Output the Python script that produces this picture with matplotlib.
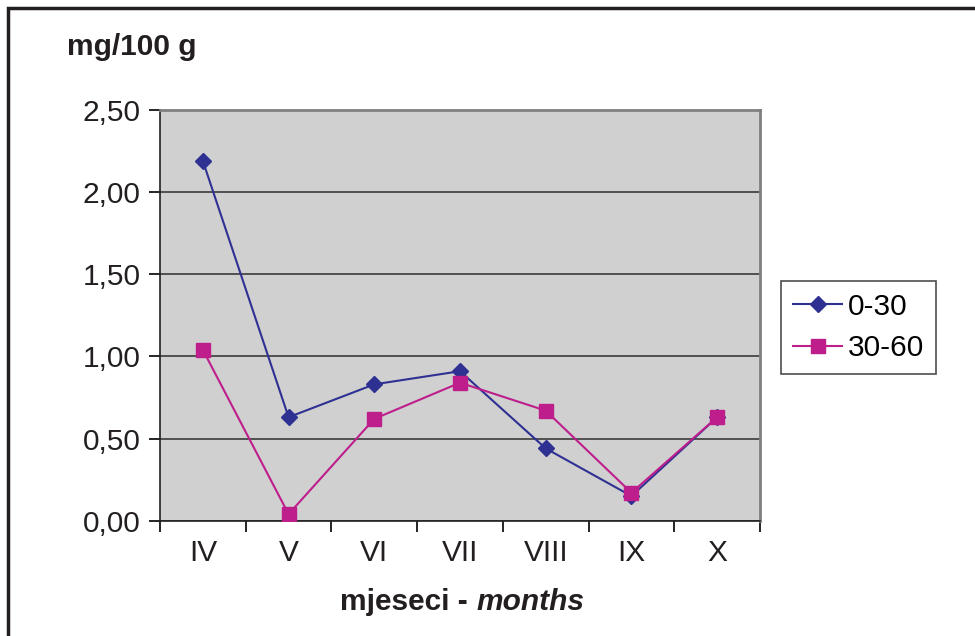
import numpy as np
import matplotlib
matplotlib.use("Agg")
import matplotlib.pyplot as plt
from matplotlib.patches import Rectangle

plt.rcParams['font.family'] = ['Liberation Sans', 'DejaVu Sans']

# data
months = ["IV", "V", "VI", "VII", "VIII", "IX", "X"]
depth_0_30 = [2.19, 0.63, 0.83, 0.91, 0.44, 0.15, 0.63]
depth_30_60 = [1.04, 0.04, 0.62, 0.84, 0.67, 0.17, 0.63]
y_ticks = [0.0, 0.5, 1.0, 1.5, 2.0, 2.5]
y_tick_labels = ["0,00", "0,50", "1,00", "1,50", "2,00", "2,50"]

BLUE = "#2E3192"
MAGENTA = "#BE1E8C"
INK = "#231F20"
FS = 21.5

fig = plt.figure(figsize=(9.75, 6.36), dpi=100)
fig.patch.set_facecolor("white")

# outer frame of the chart object (bottom and right edges run off the picture)
fig.patches.append(Rectangle((8 / 975, -0.05), 1.0, 1 - 8 / 636 + 0.05,
                             transform=fig.transFigure, fill=False,
                             edgecolor=INK, linewidth=2.5))

ax = fig.add_axes([160 / 975, 115.3 / 636, 600 / 975, 410.7 / 636])
ax.set_facecolor("#D0D0D0")

x = np.arange(len(months)) + 0.5
ax.plot(x, depth_0_30, color=BLUE, marker="D", markersize=8, linewidth=1.5,
        label="0-30", zorder=3)
ax.plot(x, depth_30_60, color=MAGENTA, marker="s", markersize=10, linewidth=1.5,
        label="30-60", zorder=4)

ax.set_xlim(0, len(months))
ax.set_ylim(0, 2.5)
ax.set_yticks(y_ticks)
ax.set_yticklabels(y_tick_labels, fontsize=FS, color=INK)
ax.yaxis.grid(True, color="#3A3A3A", linewidth=1.2)
ax.set_axisbelow(True)

ax.set_xticks(np.arange(len(months) + 1))
ax.set_xticklabels([])
ax.set_xticks(x, minor=True)
ax.set_xticklabels(months, minor=True, fontsize=FS, color=INK)
ax.tick_params(axis="x", which="minor", length=0, pad=13)
ax.tick_params(axis="x", which="major", length=8, width=1.2, direction="out")
ax.tick_params(axis="y", length=8, width=1.2, direction="out", pad=6)

for side in ["left", "bottom"]:
    ax.spines[side].set_color(INK)
    ax.spines[side].set_linewidth(1.2)
for side in ["top", "right"]:
    ax.spines[side].set_color("#808080")
    ax.spines[side].set_linewidth(2)

fig.text(67 / 975, 1 - 47 / 636, "mg/100 g", fontsize=FS, fontweight="bold",
         va="center", ha="left", color=INK)

t1 = fig.text(340 / 975, 26 / 636, "mjeseci - ", fontsize=FS, fontweight="bold",
              va="baseline", ha="left", color=INK)
ax.annotate("months", xy=(1, 0), xycoords=t1, va="bottom", ha="left",
            fontsize=FS, fontweight="bold", fontstyle="italic", color=INK,
            annotation_clip=False)

leg = ax.legend(loc="center left", bbox_to_anchor=(781 / 975, 1 - 327.5 / 636),
                bbox_transform=fig.transFigure, fontsize=FS, frameon=True,
                fancybox=False, edgecolor=INK, handlelength=1.65,
                handletextpad=0.2, borderpad=0.4, labelspacing=0.45,
                borderaxespad=0)
leg.get_frame().set_linewidth(1.2)

fig.savefig("out.png", dpi=100)
